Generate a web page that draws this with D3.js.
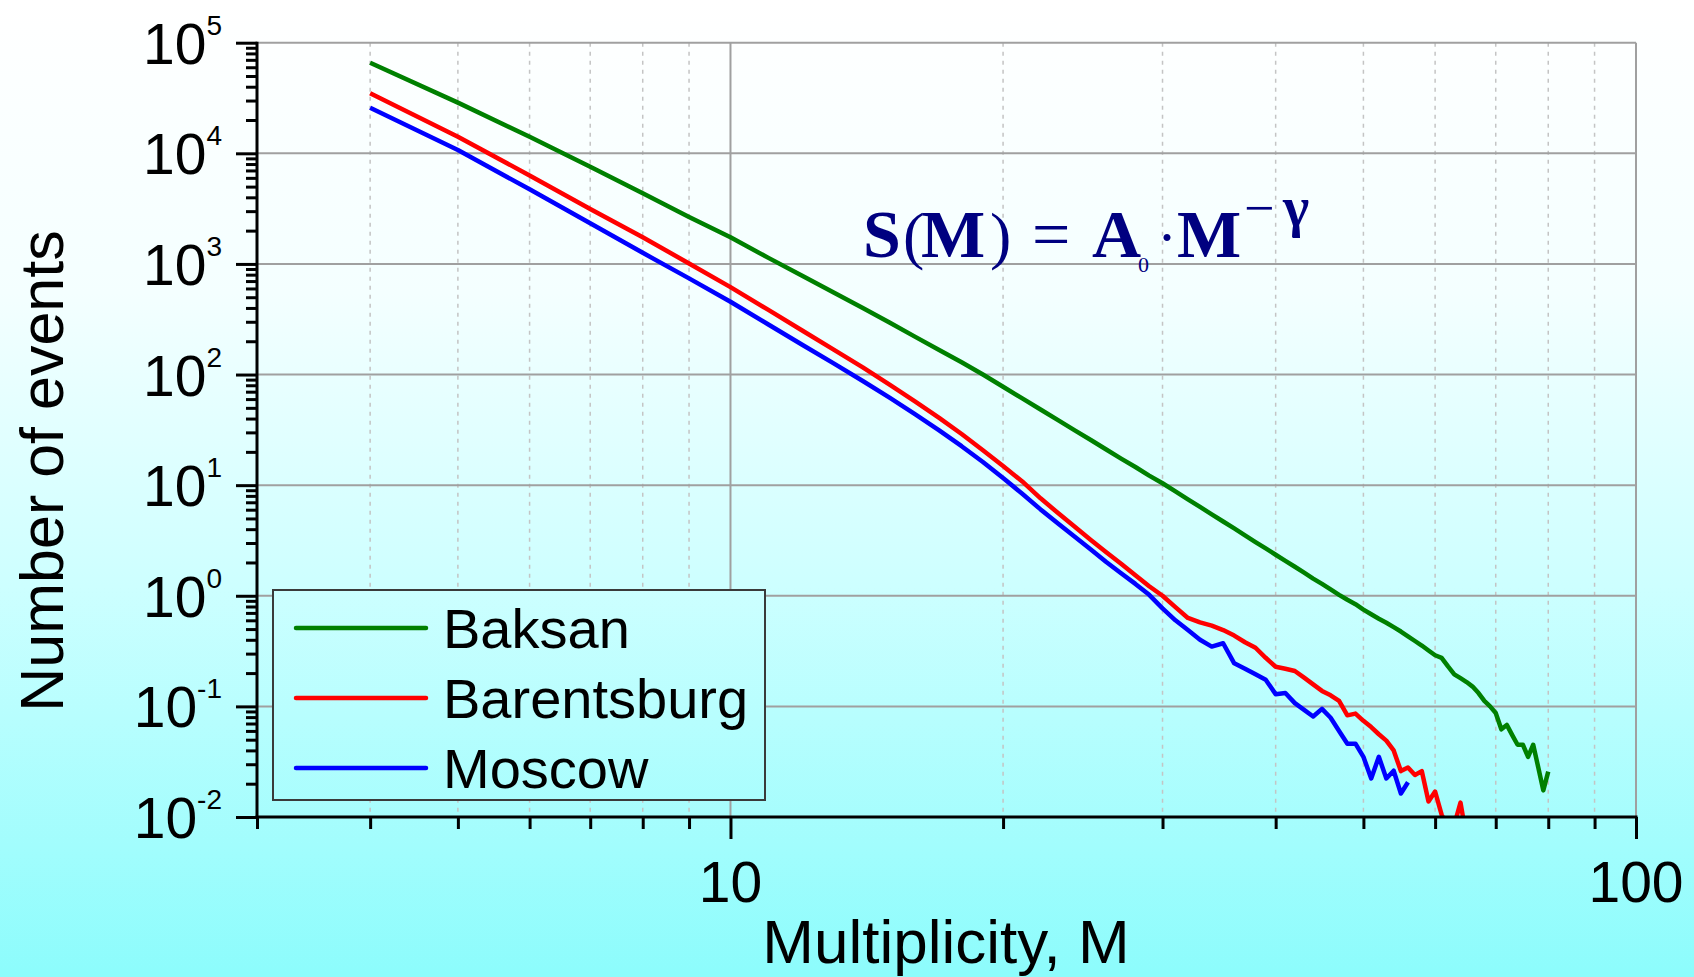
<!DOCTYPE html>
<html>
<head>
<meta charset="utf-8">
<script src="https://cdn.jsdelivr.net/npm/d3@7"></script>
<style>
body{margin:0;overflow:hidden;background:#fff;}
svg{display:block;font-family:"Liberation Sans",Arial,sans-serif;}
</style>
</head>
<body>
<svg width="1694" height="977"></svg>
<script>
var multiplicity = [4,5,6,7,8,9,10,11,12,13,14,15,16,17,18,19,20,21,22,23,24,25,26,27,28,29,30,
  31,32,33,34,35,36,37,38,39,40,41,42,43,44,45,46,47,48,49,50,51,52,53,54,55,56,57,58,59,60,
  61,62,63,64,65,66,67,68,69,70,71,72,73,74,75,76,77,78,79,80];

var baksan = [65900,28700,14100,7570,4350,2650,1740,1140,782,552,400,294,219,167,129,100,77.6,
  60.8,48.3,38.7,31.3,25.6,21.0,17.4,14.6,12.2,10.4,8.77,7.45,6.35,5.44,4.69,4.06,3.52,3.06,2.68,
  2.35,2.07,1.83,1.62,1.43,1.28,1.14,1.02,0.92,0.84,0.75,0.68,0.62,0.57,0.52,0.475,0.43,0.39,0.355,
  0.32,0.29,0.275,0.23,0.195,0.18,0.166,0.151,0.132,0.112,0.1,0.087,0.062,0.068,0.055,0.045,0.045,
  0.035,0.045,0.028,0.0174,0.0257];

var barentsburg = [34900,14100,6310,3140,1740,1010,617,386,250,168,116,80.7,57.0,40.6,29.0,20.7,
  14.9,10.8,7.6,5.6,4.2,3.2,2.48,1.95,1.53,1.22,1.0,0.79,0.63,0.575,0.537,0.49,0.437,0.38,
  0.339,0.275,0.228,0.219,0.209,0.182,0.158,0.138,0.126,0.112,0.083,0.086,0.074,0.065,0.056,0.049,
  0.040,0.026,0.028,0.024,0.026,0.0138,0.017,0.0105,0.008,0.0085,0.0135,0.0065];

var moscow = [25800,10700,4730,2330,1260,740,455,285,186,126,87.5,61.5,43.7,31.3,22.5,16.2,11.6,
  8.36,6.04,4.5,3.42,2.62,2.02,1.6,1.28,1.02,0.77,0.60,0.49,0.40,0.347,0.372,0.245,0.219,0.195,
  0.174,0.129,0.132,0.107,0.093,0.081,0.095,0.079,0.060,0.046,0.046,0.035,0.0223,0.035,0.0223,
  0.0262,0.0163,0.0206];

var seriesNames = ["Baksan","Barentsburg","Moscow"];
var seriesColors = ["#008000","#ff0000","#0000ff"];
var seriesValues = [baksan, barentsburg, moscow];

var yTickPowers = [-2,-1,0,1,2,3,4,5];
var xMajorTicks = [10,100];
var xMinorTicks = [3,4,5,6,7,8,9,20,30,40,50,60,70,80,90];

// plot box (window.top is reserved, so no "top" here)
var pLeft = 257, pRight = 1636, pTop = 42.7, pBottom = 817;

var svg = d3.select("svg");

// background gradient (white to cyan)
var defs = svg.append("defs");
var grad = defs.append("linearGradient").attr("id","bg")
  .attr("gradientUnits","userSpaceOnUse")
  .attr("x1",0).attr("y1",0).attr("x2",0).attr("y2",977);
grad.append("stop").attr("offset","0").attr("stop-color","#ffffff");
grad.append("stop").attr("offset","0.3").attr("stop-color","#f4ffff");
grad.append("stop").attr("offset","0.6").attr("stop-color","#cdffff");
grad.append("stop").attr("offset","1").attr("stop-color","#8cfcfc");

defs.append("clipPath").attr("id","plotclip")
  .append("rect").attr("x",pLeft).attr("y",pTop).attr("width",pRight-pLeft).attr("height",pBottom-pTop);

svg.append("rect").attr("width",1694).attr("height",977).attr("fill","url(#bg)");

var x = d3.scaleLog().domain([3,100]).range([pLeft,pRight]);
var y = d3.scaleLog().domain([0.01,1e5]).range([pBottom,pTop]);

// minor vertical grid (dashed)
svg.append("g").selectAll("line").data(xMinorTicks.filter(function(d){return d>3;}))
  .enter().append("line")
  .attr("x1",function(d){return x(d);}).attr("x2",function(d){return x(d);})
  .attr("y1",pTop).attr("y2",pBottom)
  .attr("stroke","#c4c4c4").attr("stroke-width",1.5).attr("stroke-dasharray","4,5");

// major grid
svg.append("g").selectAll("line").data(yTickPowers.filter(function(d){return d>-2;}))
  .enter().append("line")
  .attr("x1",pLeft).attr("x2",pRight)
  .attr("y1",function(d){return y(Math.pow(10,d));}).attr("y2",function(d){return y(Math.pow(10,d));})
  .attr("stroke","#a0a0a0").attr("stroke-width",2);
svg.append("g").selectAll("line").data(xMajorTicks)
  .enter().append("line")
  .attr("x1",function(d){return x(d);}).attr("x2",function(d){return x(d);})
  .attr("y1",pTop).attr("y2",pBottom)
  .attr("stroke","#a0a0a0").attr("stroke-width",2);

// data lines
var line = d3.line()
  .x(function(d){return x(d[0]);})
  .y(function(d){return y(d[1]);});

svg.append("g").attr("clip-path","url(#plotclip)")
  .selectAll("path").data(seriesValues).enter().append("path")
  .attr("d",function(vals){return line(vals.map(function(v,i){return [multiplicity[i],v];}));})
  .attr("fill","none")
  .attr("stroke",function(d,i){return seriesColors[i];})
  .attr("stroke-width",4.5)
  .attr("stroke-linejoin","round");

// legend
var legend = svg.append("g");
legend.append("rect").attr("x",273).attr("y",590).attr("width",492).attr("height",210)
  .attr("fill","url(#bg)").attr("stroke","#3a3a3a").attr("stroke-width",2);
seriesNames.forEach(function(name,i){
  var ly = 628 + i*70;
  legend.append("line").attr("x1",296).attr("x2",426).attr("y1",ly).attr("y2",ly)
    .attr("stroke",seriesColors[i]).attr("stroke-width",4.5).attr("stroke-linecap","round");
  legend.append("text").attr("x",443).attr("y",ly+20).style("font-size","56px").text(name);
});

// y axis
var yMinor = [];
yTickPowers.slice(0,-1).forEach(function(p){
  for(var k=2;k<10;k++){ yMinor.push(k*Math.pow(10,p)); }
});
svg.append("g").attr("transform","translate("+pLeft+",0)")
  .call(d3.axisLeft(y).tickValues(yMinor).tickSize(11).tickFormat(""))
  .call(function(g){g.select(".domain").remove();})
  .selectAll("line").attr("stroke","#000").attr("stroke-width",3);
svg.append("g").attr("transform","translate("+pLeft+",0)")
  .call(d3.axisLeft(y).tickValues(yTickPowers.map(function(p){return Math.pow(10,p);})).tickSize(21).tickFormat(""))
  .call(function(g){g.select(".domain").remove();})
  .selectAll("line").attr("stroke","#000").attr("stroke-width",3);
svg.append("line").attr("x1",pLeft).attr("x2",pLeft).attr("y1",pTop-1).attr("y2",pBottom+1.5)
  .attr("stroke","#000").attr("stroke-width",3);

svg.selectAll(".ylab").data(yTickPowers).enter().append("text")
  .attr("class","ylab")
  .attr("x",222)
  .attr("y",function(d){return y(Math.pow(10,d))+21;})
  .attr("text-anchor","end")
  .style("font-size","57px")
  .each(function(d){
    d3.select(this).append("tspan").text("10");
    d3.select(this).append("tspan").attr("dy",-29).style("font-size","28px").text(d);
  });

// x axis
svg.append("g").attr("transform","translate(0,"+pBottom+")")
  .call(d3.axisBottom(x).tickValues(xMinorTicks).tickSize(12).tickFormat(""))
  .call(function(g){g.select(".domain").remove();})
  .selectAll("line").attr("stroke","#000").attr("stroke-width",3);
svg.append("g").attr("transform","translate(0,"+pBottom+")")
  .call(d3.axisBottom(x).tickValues(xMajorTicks).tickSize(22).tickFormat(""))
  .call(function(g){g.select(".domain").remove();})
  .selectAll("line").attr("stroke","#000").attr("stroke-width",3);
svg.append("line").attr("x1",pLeft-1.5).attr("x2",pRight+1.5).attr("y1",pBottom).attr("y2",pBottom)
  .attr("stroke","#000").attr("stroke-width",3);

svg.selectAll(".xlab").data(xMajorTicks).enter().append("text")
  .attr("class","xlab")
  .attr("x",function(d){return x(d);})
  .attr("y",902)
  .attr("text-anchor","middle")
  .style("font-size","57px")
  .text(function(d){return d;});

// axis titles
svg.append("text").attr("x",946).attr("y",963).attr("text-anchor","middle")
  .style("font-size","62px").text("Multiplicity, M");
svg.append("text").attr("transform","translate(63,471) rotate(-90)").attr("text-anchor","middle")
  .style("font-size","61px").text("Number of events");

// formula S(M) = A0 · M^-gamma
var f = svg.append("text").attr("fill","#000080")
  .style("font-family","'Liberation Serif','Times New Roman',serif").style("font-weight","bold");
f.append("tspan").attr("x",863).attr("y",257).style("font-size","68px").text("S");
f.append("tspan").attr("x",903).attr("y",257).style("font-size","64px").style("font-weight","normal").text("(");
f.append("tspan").attr("x",921).attr("y",257).style("font-size","68px").text("M");
f.append("tspan").attr("x",990).attr("y",257).style("font-size","64px").style("font-weight","normal").text(")");
f.append("tspan").attr("x",1032).attr("y",257).style("font-size","68px").style("font-weight","normal").text("=");
f.append("tspan").attr("x",1092).attr("y",257).style("font-size","68px").text("A");
f.append("tspan").attr("x",1138).attr("y",272).style("font-size","22px").style("font-weight","normal").text("0");
f.append("tspan").attr("x",1157).attr("y",257).style("font-size","60px").style("font-weight","normal").text("\u00b7");
f.append("tspan").attr("x",1177).attr("y",257).style("font-size","68px").text("M");
f.append("tspan").attr("x",1244).attr("y",226).style("font-size","54px").style("font-weight","normal").text("\u2212");
f.append("tspan").attr("x",1283).attr("y",226).style("font-size","56px").text("\u03b3");
</script>
</body>
</html>
